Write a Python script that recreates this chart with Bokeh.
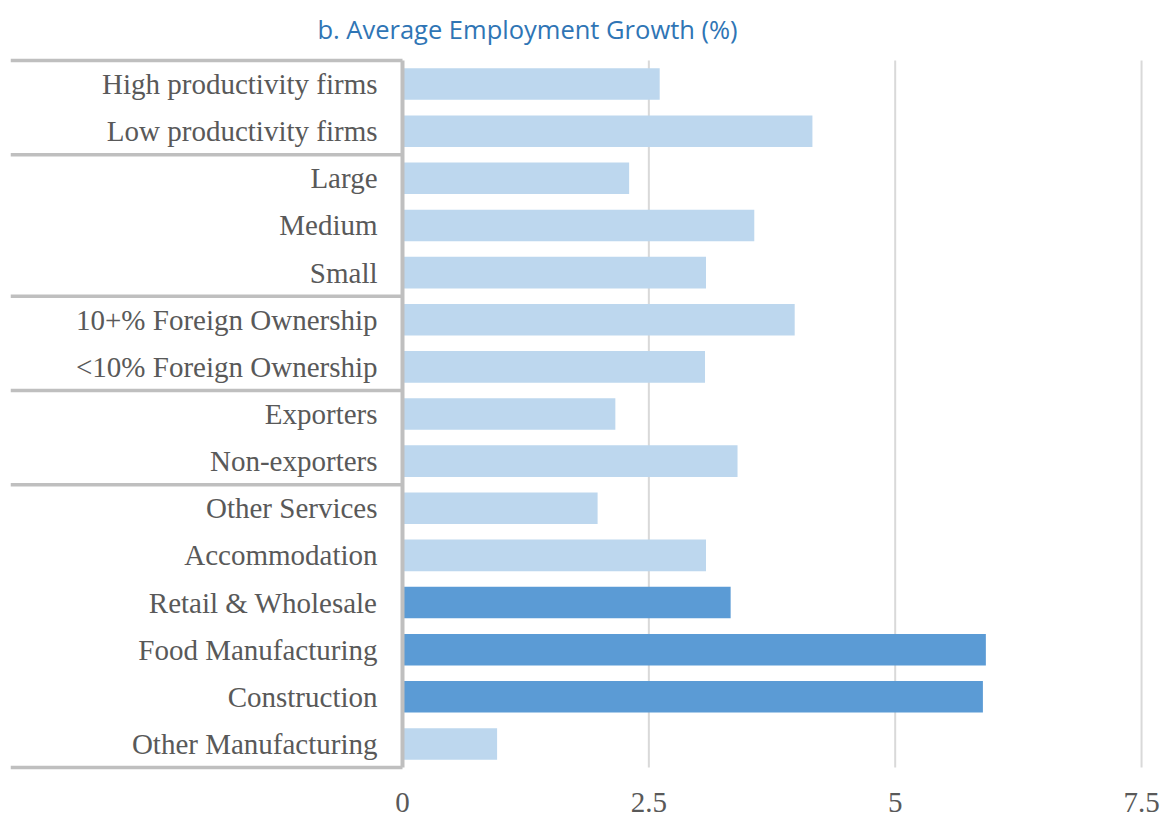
from bokeh.plotting import figure
from bokeh.models import ColumnDataSource, Range1d, FixedTicker
from bokeh.core.properties import value
from bokeh.embed import file_html
from bokeh.resources import INLINE

# ---- data -------------------------------------------------------------
categories = [
    "High productivity firms", "Low productivity firms",
    "Large", "Medium", "Small",
    "10+% Foreign Ownership", "<10% Foreign Ownership",
    "Exporters", "Non-exporters",
    "Other Services", "Accommodation", "Retail & Wholesale",
    "Food Manufacturing", "Construction", "Other Manufacturing",
]
growth = [2.61, 4.16, 2.30, 3.57, 3.08, 3.98, 3.07, 2.16, 3.40,
          1.98, 3.08, 3.33, 5.92, 5.89, 0.96]
highlighted = [False, False, False, False, False, False, False, False, False,
               False, False, True, True, True, False]
group_sizes = [2, 3, 2, 2, 6]
x_ticks = [0, 2.5, 5, 7.5]
title_text = "b. Average Employment Growth (%)"

# ---- styling ----------------------------------------------------------
LIGHT = "#BDD7EE"
DARK = "#5B9BD5"
TEXT = "#595959"
GRID = "#D9D9D9"
RULE = "#BFBFBF"
SERIF = "'Liberation Serif', 'Times New Roman', serif"

W, H = 1163, 816
frame_left, frame_right = 10, 1150
frame_top, frame_bottom = 0, 775
plot_top_px, plot_bottom_px = 60, 767
px_zero, px_per_unit = 402.0, 98.54
n = len(categories)
band_px = (plot_bottom_px - plot_top_px) / n

x_lo = -(px_zero - frame_left) / px_per_unit
x_hi = max(x_ticks) + (frame_right - (px_zero + max(x_ticks) * px_per_unit)) / px_per_unit
y_top = -0.5 - (plot_top_px - frame_top) / band_px
y_bot = (n - 0.5) + (frame_bottom - plot_bottom_px) / band_px

def px_to_x(px):
    return (px - px_zero) / px_per_unit

def px_to_y(py):
    return -0.5 + (py - plot_top_px) / band_px

ys = list(range(n))
colors = [DARK if h else LIGHT for h in highlighted]
src = ColumnDataSource(dict(y=ys, v=growth, c=colors, cat=categories,
                            lx=[px_to_x(377)] * n))

p = figure(width=W, height=H, output_backend="svg", toolbar_location=None,
           x_range=Range1d(x_lo, x_hi), y_range=Range1d(y_bot, y_top),
           min_border_left=frame_left, min_border_right=W - frame_right,
           min_border_top=frame_top, min_border_bottom=H - frame_bottom)
p.outline_line_color = None
p.xgrid.visible = False
p.ygrid.visible = False
p.yaxis.visible = False

# title (drawn inside the frame, above the bars)
p.text(x=[px_to_x(527)], y=[px_to_y(28)], text=[title_text],
       text_align="center", text_baseline="middle",
       text_font=value("Open Sans"), text_font_size="25.5px", text_color="#2F75B5")

# x axis
ax = p.xaxis[0]
ax.ticker = FixedTicker(ticks=x_ticks)
ax.axis_line_color = None
ax.major_tick_line_color = None
ax.minor_tick_line_color = None
ax.major_label_text_font = SERIF
ax.major_label_text_font_size = "29px"
ax.major_label_text_color = TEXT
ax.major_label_standoff = 11

# vertical gridlines (excluding zero)
grid_x = [t for t in x_ticks if t > 0]
p.segment(x0=grid_x, x1=grid_x, y0=[-0.5] * len(grid_x), y1=[n - 0.5] * len(grid_x),
          line_color=GRID, line_width=2)

# bars
p.hbar(y="y", left=0, right="v", height=0.67, fill_color="c", line_color=None, source=src)

# category axis line and group separators
bounds = [-0.5]
for g in group_sizes:
    bounds.append(bounds[-1] + g)
p.segment(x0=[x_lo] * len(bounds), x1=[0] * len(bounds), y0=bounds, y1=bounds,
          line_color=RULE, line_width=3.5)
p.segment(x0=[0], x1=[0], y0=[-0.5], y1=[n - 0.5], line_color=RULE, line_width=4)

# category labels
p.text(x="lx", y="y", text="cat", source=src, text_align="right",
       text_baseline="middle", text_font=value(SERIF),
       text_font_size="29px", text_color=TEXT)

open("out.html", "w").write(file_html(p, INLINE))
